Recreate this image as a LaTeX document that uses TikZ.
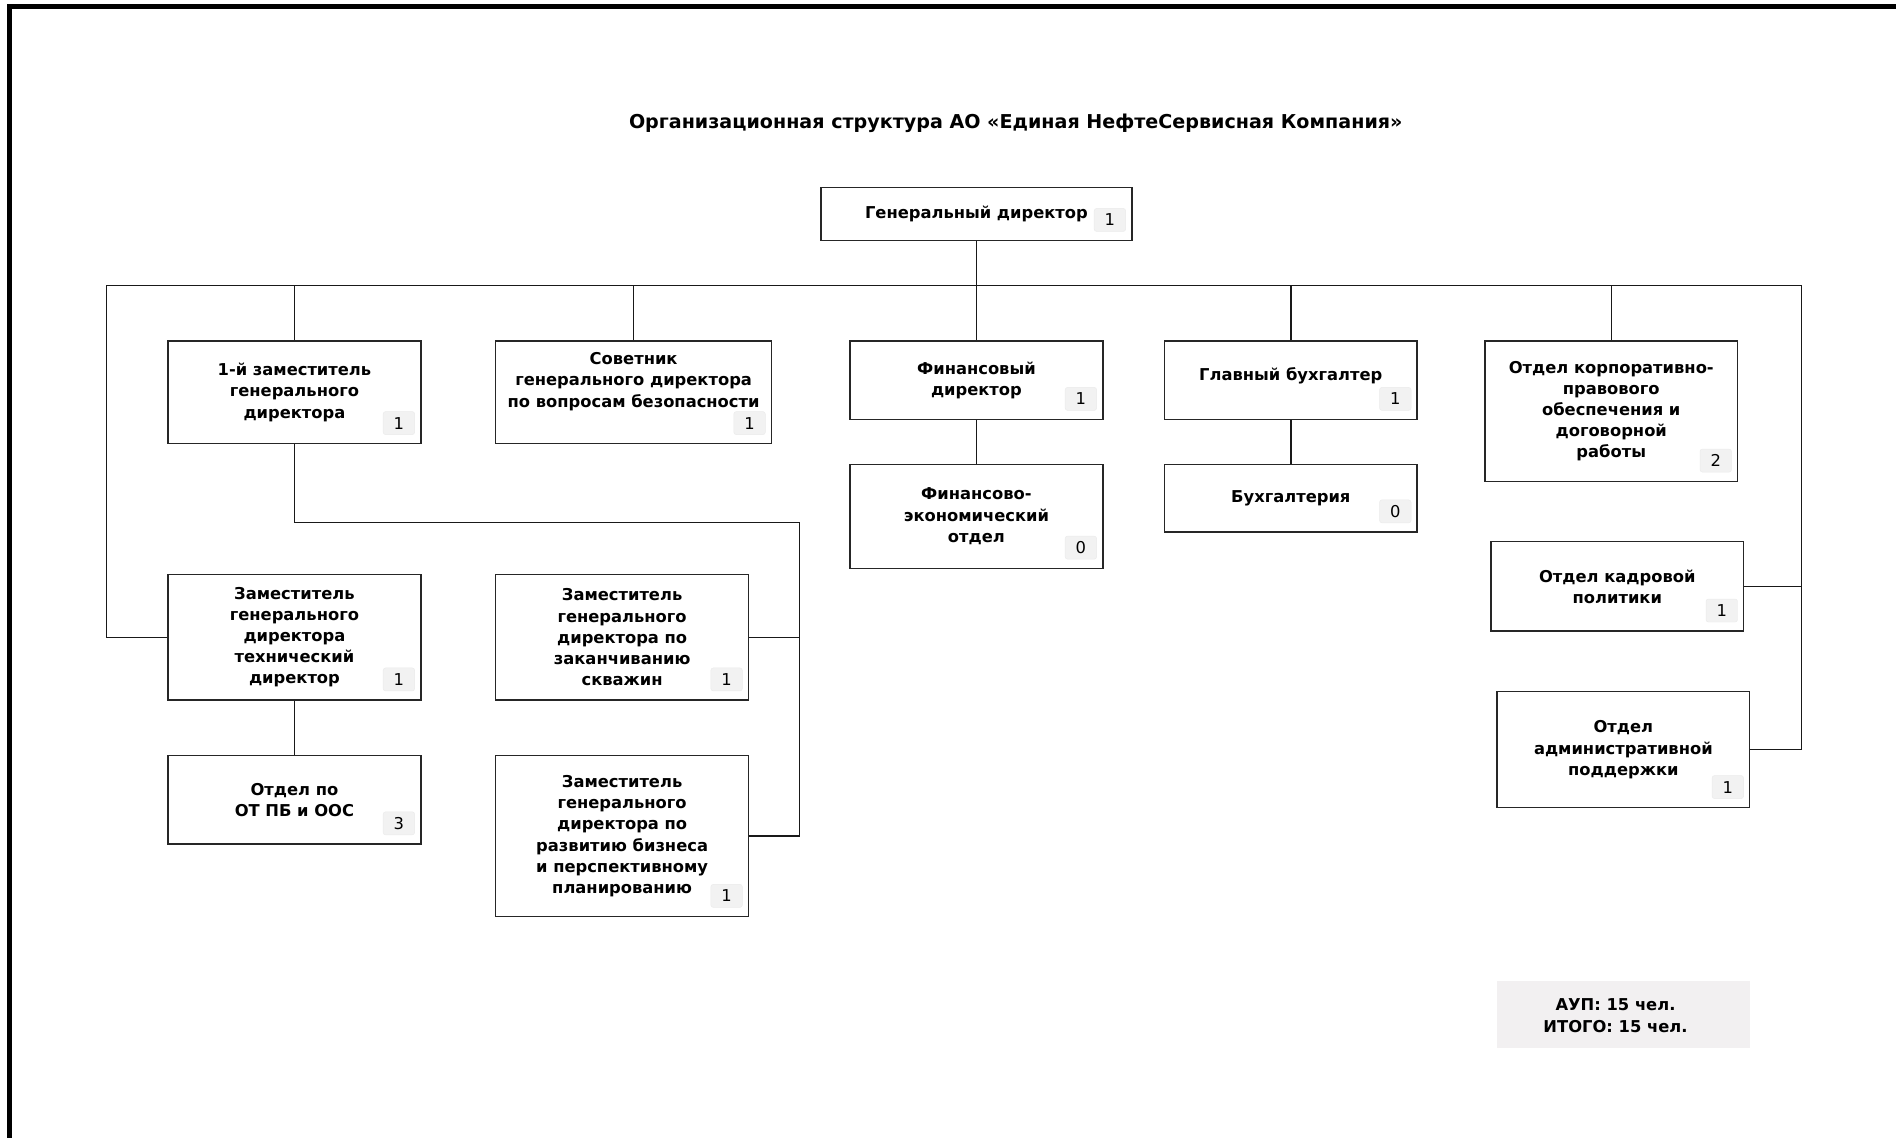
\documentclass[tikz,border=0pt]{standalone}
\usepackage{fontspec}
\setmainfont{DejaVu Sans}
\usepackage{tikz}

\definecolor{badgegray}{RGB}{242,242,242}
\definecolor{sumgray}{RGB}{242,240,241}

\tikzset{
  unit/.style={draw=black!85, line width=1.2pt, fill=white, inner sep=0pt,
    align=center, font=\fontsize{13.5}{17.5}\selectfont\bfseries},
  badge/.style={draw=black!8, fill=badgegray, rounded corners=2pt, inner sep=0pt,
    minimum width=26, minimum height=19, anchor=south east,
    font=\fontsize{13.5}{16}\selectfont},
  link/.style={draw=black!90, line width=1.2pt}
}

\begin{document}
\begin{tikzpicture}[x=1pt,y=-1pt] % 1 unit = 1 px of the shrunk reference
\useasboundingbox (0,0) rectangle (1568,941);
\draw[line width=4pt] (7.6,941) -- (7.6,5.7) -- (1568,5.7);

\node[font=\fontsize{15.8}{19}\selectfont\bfseries] (title) at (840,102)
  {Организационная структура АО «Единая НефтеСервисная Компания»};

\node[unit, minimum width=257, minimum height=44] (gd) at (807.5,177) {Генеральный директор};
\node[unit, minimum width=209, minimum height=85] (first) at (243.5,324.5) {1-й заместитель\\генерального\\директора};
\node[unit, minimum width=228, minimum height=85] (sovet) at (524,324.5) {};
\node[unit, draw=none, fill=none] (sovet-t) at (524,315.5) {Советник\\генерального директора\\по вопросам безопасности};
\node[unit, minimum width=209, minimum height=65] (findir) at (807.5,314.5) {Финансовый\\директор};
\node[unit, minimum width=209, minimum height=65] (glbuh) at (1067.5,314.5) {};
\node[unit, draw=none, fill=none] (glbuh-t) at (1067.5,311) {Главный бухгалтер};
\node[unit, minimum width=209, minimum height=116] (korp) at (1332.5,340) {Отдел корпоративно-\\правового\\обеспечения и\\договорной\\работы};
\node[unit, minimum width=209, minimum height=86] (fineco) at (807.5,427) {Финансово-\\экономический\\отдел};
\node[unit, minimum width=209, minimum height=56] (buh) at (1067.5,412) {Бухгалтерия};
\node[unit, minimum width=209, minimum height=74] (kadr) at (1337.5,485) {Отдел кадровой\\политики};
\node[unit, minimum width=209, minimum height=96] (adm) at (1342.5,620) {Отдел\\административной\\поддержки};
\node[unit, minimum width=209, minimum height=104] (tech) at (243.5,527) {Заместитель\\генерального\\директора\\технический\\директор};
\node[unit, minimum width=209, minimum height=73] (otpb) at (243.5,661.5) {Отдел по\\ОТ ПБ и ООС};
\node[unit, minimum width=209, minimum height=104] (zakan) at (514.5,527) {Заместитель\\генерального\\директора по\\заканчиванию\\скважин};
\node[unit, minimum width=209, minimum height=133] (razv) at (514.5,691.5) {Заместитель\\генерального\\директора по\\развитию бизнеса\\и перспективному\\планированию};

\foreach \u/\n in {gd/1, first/1, sovet/1, findir/1, glbuh/1, korp/2, fineco/0, buh/0,
                   kadr/1, adm/1, tech/1, otpb/3, zakan/1, razv/1}
  \node[badge] (\u-n) at ([shift={(-5.5,-8)}]\u.south east) {\n};

\node[unit, draw=none, fill=sumgray, minimum width=209, minimum height=56] (total) at (1342.5,839) {};
\node[unit, draw=none, fill=none] (total-t) at (1336,840) {АУП: 15 чел.\\ИТОГО: 15 чел.};

% connectors
\coordinate (busL) at (88,236);
\coordinate (busR) at (1490,236);
\coordinate (jn) at (661,432);
\draw[link] (busL) -- (busR);
\draw[link] (gd) -- (gd |- busL);
\draw[link] (first) -- (first |- busL);
\draw[link] (sovet) -- (sovet |- busL);
\draw[link] (findir) -- (findir |- busL);
\draw[link] (glbuh) -- (glbuh |- busL);
\draw[link] (korp) -- (korp |- busL);
\draw[link] (tech) -| (busL);
\draw[link] (adm) -| (busR);
\draw[link] (kadr) -- (kadr -| busR);
\draw[link] (first) |- (jn) -- (jn |- razv) -- (razv);
\draw[link] (zakan) -- (zakan -| jn);
\draw[link] (tech) -- (otpb);
\draw[link] (findir) -- (fineco);
\draw[link] (glbuh) -- (buh);
\end{tikzpicture}
\end{document}
